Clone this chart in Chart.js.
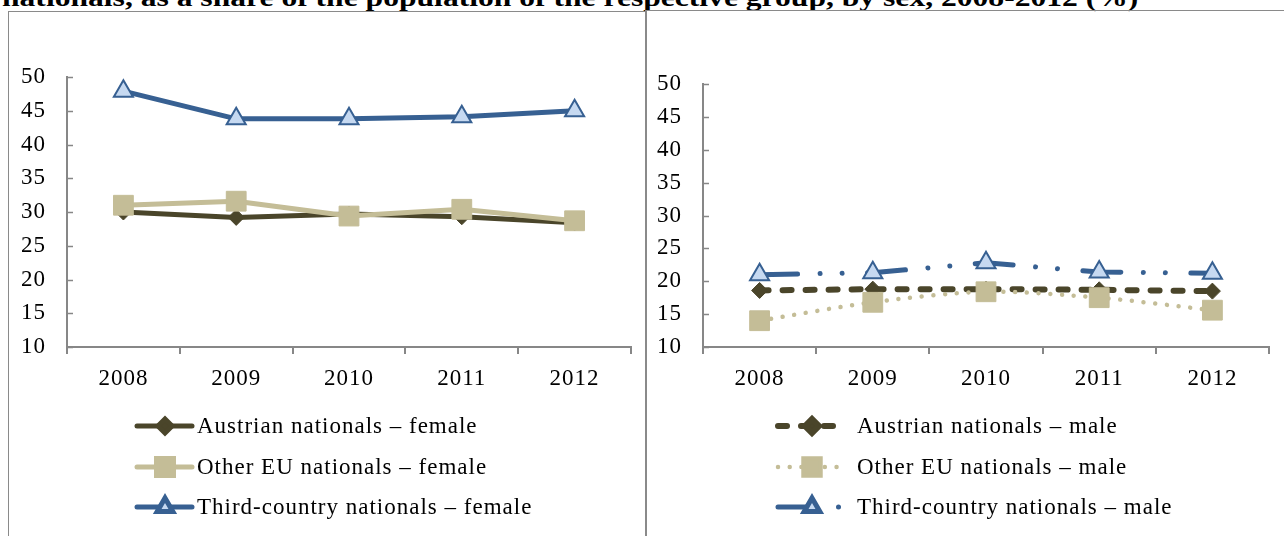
<!DOCTYPE html>
<html>
<head>
<meta charset="utf-8">
<script src="https://cdn.jsdelivr.net/npm/chart.js@4.4.1/dist/chart.umd.min.js"></script>
<style>
  html, body { margin: 0; padding: 0; background: #fff; }
  body { width: 1284px; height: 536px; position: relative; overflow: hidden; font-family: "Liberation Serif", serif; }
  #title { position: absolute; left: 2px; top: -15px; font-weight: bold; font-size: 26px; line-height: 26px;
           white-space: nowrap; transform-origin: 0 0; color: #000; }
  canvas { position: absolute; top: 0; }
  .panel { position: absolute; border: 1.5px solid #8a8a8a; box-sizing: border-box; pointer-events: none; }
</style>
</head>
<body>
<div id="title">nationals, as a share of the population of the respective group, by sex, 2008-2012 (%)</div>
<canvas id="female" width="646" height="536" style="left:0"></canvas>
<canvas id="male" width="638" height="536" style="left:646px"></canvas>
<div class="panel" style="left:8px;top:11px;width:639px;height:560px"></div>
<div class="panel" style="left:645px;top:10px;width:660px;height:560px"></div>

<script>
// Years on the x axis
const years = ['2008', '2009', '2010', '2011', '2012'];

// Female series (%)
const austrianFemale     = [30.0, 29.2, 29.7, 29.3, 28.4];
const otherEuFemale      = [31.0, 31.6, 29.4, 30.4, 28.7];
const thirdCountryFemale = [47.9, 43.8, 43.8, 44.1, 45.0];

// Male series (%)
const austrianMale     = [18.6, 18.8, 18.8, 18.7, 18.5];
const otherEuMale      = [14.0, 16.8, 18.4, 17.5, 15.6];
const thirdCountryMale = [21.0, 21.3, 22.8, 21.4, 21.2];

// Value axis
const yMin = 10;
const yMax = 50;
const yStep = 5;

const COLORS = {
  austrian: '#4a452a',
  otherEu: '#c4bd97',
  third: '#376092',
  thirdFill: '#c6d9f1',
  axis: '#878787',
  text: '#000000'
};
const FONT = 'Liberation Serif';
const FONT_SIZE = 23;

// Stretch the heading across its full line
(function () {
  const t = document.getElementById('title');
  const w = t.scrollWidth;
  t.style.transform = 'scaleX(' + (1136 / w) + ')';
})();

// Small tick marks pointing into the plot from the value axis
const innerTicks = {
  id: 'innerTicks',
  beforeDatasetsDraw(chart) {
    const s = chart.scales.y, ctx = chart.ctx;
    ctx.save();
    ctx.strokeStyle = COLORS.axis;
    ctx.lineWidth = 1.5;
    s.ticks.forEach((t, i) => {
      const py = Math.round(s.getPixelForTick(i)) + 0.5;
      ctx.beginPath();
      ctx.moveTo(s.right, py);
      ctx.lineTo(s.right + 6, py);
      ctx.stroke();
    });
    ctx.restore();
  }
};

// Slightly wider text spacing for the serif labels
const spacing = {
  id: 'spacing',
  beforeUpdate(chart) { chart.ctx.letterSpacing = '1px'; },
  beforeDraw(chart) { chart.ctx.letterSpacing = '1px'; }
};

// Legend rows below the plot: line sample, marker, label
const legendRows = {
  id: 'legendRows',
  afterDraw(chart, args, opts) {
    const ctx = chart.ctx;
    chart.data.datasets.forEach((ds, i) => {
      const y = opts.rowY[i];
      ctx.save();
      ctx.strokeStyle = ds.borderColor;
      ctx.lineWidth = ds.borderWidth;
      ctx.lineCap = ds.borderCapStyle || 'round';
      ctx.setLineDash(ds.borderDash || []);
      ctx.beginPath();
      ctx.moveTo(opts.x0, y);
      ctx.lineTo(ds.legendEnd || opts.x1, y);
      ctx.stroke();
      ctx.setLineDash([]);
      ctx.fillStyle = ds.pointBackgroundColor;
      ctx.strokeStyle = ds.pointBorderColor;
      Chart.helpers.drawPoint(ctx, {
        pointStyle: ds.pointStyle,
        radius: ds.legendRadius,
        rotation: 0,
        borderWidth: ds.pointBorderWidth
      }, opts.xm, y);
      ctx.fillStyle = COLORS.text;
      ctx.font = FONT_SIZE + 'px "' + FONT + '"';
      ctx.letterSpacing = '1px';
      ctx.textAlign = 'left';
      ctx.textBaseline = 'alphabetic';
      ctx.fillText(ds.label, opts.xt, y + 7);
      ctx.restore();
    });
  }
};

function makeChart(id, datasets, geom) {
  return new Chart(document.getElementById(id), {
    type: 'line',
    data: { labels: years, datasets: datasets },
    options: {
      responsive: false,
      animation: false,
      events: [],
      layout: { padding: { left: 0, right: geom.right, top: geom.top, bottom: 0 } },
      plugins: {
        legend: { display: false },
        tooltip: { enabled: false },
        legendRows: geom.legend
      },
      scales: {
        x: {
          type: 'category',
          offset: true,
          grid: { offset: true, drawOnChartArea: false, drawTicks: true, tickLength: 7,
                  color: COLORS.axis, lineWidth: 2 },
          border: { display: true, color: COLORS.axis, width: 2 },
          ticks: { padding: 11, color: COLORS.text, maxRotation: 0, autoSkip: false,
                   font: { family: FONT, size: FONT_SIZE } },
          afterFit(s) { s.height = 189; }
        },
        y: {
          min: yMin,
          max: yMax,
          grid: { drawOnChartArea: false, drawTicks: false },
          border: { display: true, color: COLORS.axis, width: 2 },
          ticks: { stepSize: yStep, padding: 21, color: COLORS.text,
                   font: { family: FONT, size: FONT_SIZE } },
          afterFit(s) { s.width = geom.yWidth; }
        }
      }
    },
    plugins: [spacing, innerTicks, legendRows]
  });
}

function series(label, data, kind, extra) {
  const base = {
    austrian: {
      borderColor: COLORS.austrian, pointStyle: 'rectRot', pointRadius: 8, legendRadius: 7,
      pointBackgroundColor: COLORS.austrian, pointBorderColor: COLORS.austrian, pointBorderWidth: 1, order: 3
    },
    otherEu: {
      borderColor: COLORS.otherEu, pointStyle: 'rect', pointRadius: 14, legendRadius: 12,
      pointBackgroundColor: COLORS.otherEu, pointBorderColor: COLORS.otherEu, pointBorderWidth: 1, order: 2
    },
    third: {
      borderColor: COLORS.third, pointStyle: 'triangle', pointRadius: 11, legendRadius: 9,
      pointBackgroundColor: COLORS.thirdFill, pointBorderColor: COLORS.third, pointBorderWidth: 2, order: 1
    }
  }[kind];
  return Object.assign({
    label: label, data: data, borderWidth: 5, tension: 0, fill: false,
    borderCapStyle: 'round', borderJoinStyle: 'round'
  }, base, extra || {});
}

makeChart('female', [
  series('Austrian nationals \u2013 female', austrianFemale, 'austrian'),
  series('Other EU nationals \u2013 female', otherEuFemale, 'otherEu'),
  series('Third-country nationals \u2013 female', thirdCountryFemale, 'third')
], {
  yWidth: 67, right: 13, top: 77,
  legend: { x0: 137, x1: 192, xm: 165, xt: 197, rowY: [426, 467, 507] }
});

makeChart('male', [
  series('Austrian nationals \u2013 male', austrianMale, 'austrian',
         { borderWidth: 6, borderDash: [9, 14] }),
  series('Other EU nationals \u2013 male', otherEuMale, 'otherEu',
         { borderWidth: 4.5, borderDash: [0.01, 11.7], tension: 0.3 }),
  series('Third-country nationals \u2013 male', thirdCountryMale, 'third',
         { borderWidth: 5, borderDash: [38, 22.5, 0.01, 22, 0.01, 25.5], legendEnd: 200 })
], {
  yWidth: 57, right: 7, top: 84,
  legend: { x0: 132, x1: 194, xm: 166, xt: 211, rowY: [426, 467, 507] }
});
</script>
</body>
</html>
